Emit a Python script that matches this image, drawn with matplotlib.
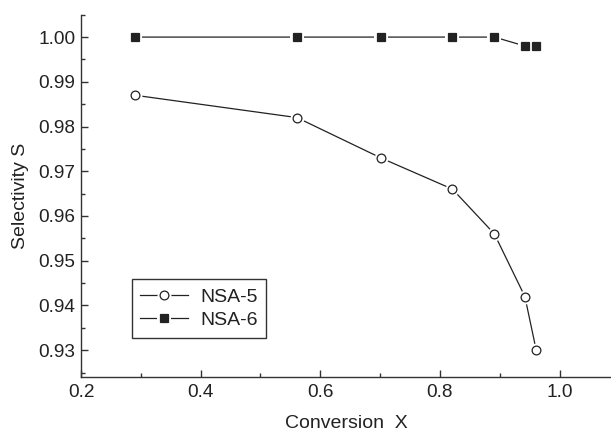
import matplotlib
matplotlib.use("Agg")
import matplotlib.pyplot as plt
from matplotlib.legend_handler import HandlerTuple
from matplotlib.ticker import MultipleLocator, FormatStrFormatter

plt.rcParams['font.family'] = ['Liberation Sans', 'DejaVu Sans']

conversion = [0.290, 0.561, 0.701, 0.821, 0.891, 0.942, 0.961]
sel_nsa5 = [0.987, 0.982, 0.973, 0.966, 0.956, 0.942, 0.930]
sel_nsa6 = [1.000, 1.000, 1.000, 1.000, 1.000, 0.998, 0.998]

ink = '#222222'

fig = plt.figure(figsize=(6.11, 4.34), dpi=100)
ax = fig.add_axes([0.1326, 0.1313, 0.8674, 0.8348])


def series(y, marker, face):
    # line, white halo around the markers, then the markers themselves
    line, = ax.plot(conversion, y, color=ink, lw=0.9, zorder=2)
    halo, = ax.plot(conversion, y, ls='none', marker=marker, ms=10,
                    mfc='white', mec='white', mew=0, zorder=3)
    mark, = ax.plot(conversion, y, ls='none', marker=marker, ms=6.3,
                    mfc=face, mec=ink, mew=0.9, zorder=4)
    return (line, halo, mark)


h5 = series(sel_nsa5, 'o', 'white')
h6 = series(sel_nsa6, 's', ink)

ax.set_xlim(0.2, 1.086)
ax.set_ylim(0.924, 1.005)

ax.xaxis.set_major_locator(MultipleLocator(0.2))
ax.xaxis.set_minor_locator(MultipleLocator(0.1))
ax.xaxis.set_major_formatter(FormatStrFormatter('%.1f'))
ax.yaxis.set_major_locator(MultipleLocator(0.01))
ax.yaxis.set_minor_locator(MultipleLocator(0.005))
ax.yaxis.set_major_formatter(FormatStrFormatter('%.2f'))

for side in ('top', 'right'):
    ax.spines[side].set_visible(False)
for side in ('left', 'bottom'):
    ax.spines[side].set_color('#333333')
    ax.spines[side].set_linewidth(1.0)

ax.tick_params(which='both', direction='in', colors='#333333',
               labelcolor=ink, labelsize=13.7, width=1.0)
ax.tick_params(which='major', length=5)
ax.tick_params(which='minor', length=2.8)
ax.tick_params(axis='x', pad=5)
ax.tick_params(axis='y', pad=4)

ax.set_xlabel('Conversion  X', fontsize=14, color=ink, labelpad=10)
ax.set_ylabel('Selectivity S', fontsize=14, color=ink, labelpad=7)

leg = ax.legend([h5, h6], ['NSA-5', 'NSA-6'],
                handler_map={tuple: HandlerTuple(ndivide=1)},
                loc='lower left', bbox_to_anchor=(0.0957, 0.1076),
                borderaxespad=0, fontsize=14, handlelength=2.45,
                handletextpad=0.62, borderpad=0.45, labelspacing=0.3,
                fancybox=False, framealpha=1, edgecolor='#333333')
leg.get_frame().set_linewidth(1.0)
for t in leg.get_texts():
    t.set_color(ink)

fig.savefig('out.png', dpi=100)
